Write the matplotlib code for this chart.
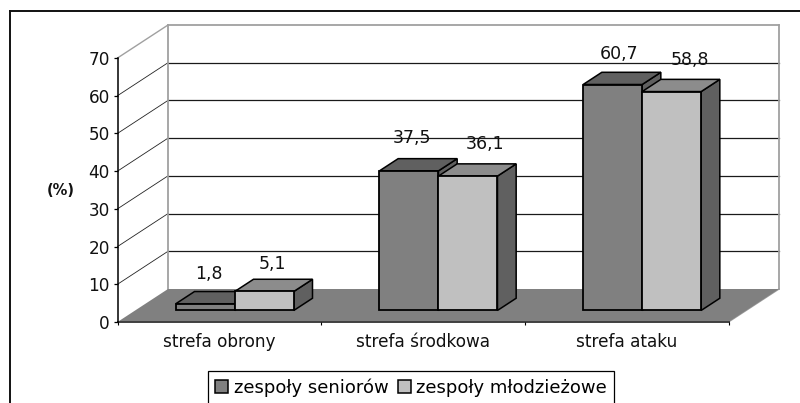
import matplotlib as mpl
mpl.use('Agg')
import matplotlib.pyplot as plt
from matplotlib.patches import Patch, Polygon
from matplotlib.lines import Line2D

categories = ['strefa obrony', 'strefa środkowa', 'strefa ataku']
seniors = [1.8, 37.5, 60.7]
juniors = [5.1, 36.1, 58.8]
seniors_text = ['1,8', '37,5', '60,7']
juniors_text = ['5,1', '36,1', '58,8']
series_names = ['zespoły seniorów', 'zespoły młodzieżowe']
yticks = [0, 10, 20, 30, 40, 50, 60, 70]

W, H = 800, 403
plt.rcParams['font.family'] = ['DejaVu Sans']
fig = plt.figure(figsize=(W / 100, H / 100), dpi=100)
ax = fig.add_axes([117.5 / W, 1 - 322 / H, 611 / W, 264 / H])
ax.set_xlim(0, 3)
ax.set_ylim(0, 70)
ax.patch.set_visible(False)

# oblique depth of the fake 3d box, in data units per unit of depth
depth_x = 50.5 / (611 / 3)
depth_y = 33 / (264 / 70)
bar_w = 59 / (611 / 3)
bar_front = 0.35
bar_back = 0.72
bar_scale = 0.987  # bars sit a bit further back, so they look slightly shorter


def proj(x, y, d):
    return (x + d * depth_x, y + d * depth_y)


def poly(pts, fc, ec='none', lw=0, z=1):
    ax.add_patch(Polygon(pts, closed=True, facecolor=fc, edgecolor=ec, linewidth=lw,
                         joinstyle='miter', zorder=z, clip_on=False))


# floor
poly([proj(0, 0, 0), proj(3, 0, 0), proj(3, 0, 1), proj(0, 0, 1)], '#808080', z=1)

# walls and grid
for v in yticks[1:]:
    x0, y0 = proj(0, v, 1)
    x1, y1 = proj(3, v, 1)
    c = '#909090' if v == 70 else '#1a1a1a'
    ax.plot([x0, x1], [y0, y1], color=c, lw=1.1 if v == 70 else 0.9, zorder=0.5, clip_on=False)
    ax.plot([0, x0], [v, y0], color='#a0a0a0' if v == 70 else '#222222',
            lw=1.0 if v == 70 else 0.6, zorder=0.5, clip_on=False)
x0, y0 = proj(0, 0, 1)
x1, y1 = proj(0, 70, 1)
ax.plot([x0, x1], [y0, y1], color='#a0a0a0', lw=1.3, zorder=0.6, clip_on=False)
x0, y0 = proj(3, 0, 1)
x1, y1 = proj(3, 70, 1)
ax.plot([x0, x1], [y0, y1], color='#a0a0a0', lw=1.3, zorder=0.6, clip_on=False)
ax.plot([3, x0], [0, y0], color='#a0a0a0', lw=1.0, zorder=0.6, clip_on=False)


def bar(x, val, face, top, side, z):
    h = val * bar_scale
    r = x + bar_w
    poly([proj(r, 0, bar_front), proj(r, 0, bar_back), proj(r, h, bar_back), proj(r, h, bar_front)],
         side, 'black', 1.1, z)
    poly([proj(x, h, bar_front), proj(r, h, bar_front), proj(r, h, bar_back), proj(x, h, bar_back)],
         top, 'black', 1.1, z)
    poly([proj(x, 0, bar_front), proj(r, 0, bar_front), proj(r, h, bar_front), proj(x, h, bar_front)],
         face, 'black', 1.3, z + 0.1)


label_dx = [[33, 32, 35.5], [37.5, 47, 47.5]]
label_dy = [30, 33, 30.5], [27, 32, 32]
for i in range(len(categories)):
    left = i + 0.5 - bar_w - 17.7 / (611 / 3) + 15.5 / (611 / 3)
    bar(left, seniors[i], '#808080', '#606060', '#606060', 2 + i)
    bar(left + bar_w, juniors[i], '#c0c0c0', '#8c8c8c', '#606060', 2.5 + i)
    for s, (vals, texts) in enumerate([(seniors, seniors_text), (juniors, juniors_text)]):
        px, py = proj(left + s * bar_w, vals[i] * bar_scale, bar_front)
        ax.annotate(texts[i], (px, py), xycoords='data', annotation_clip=False,
                    xytext=(label_dx[s][i] * 0.72, label_dy[s][i] * 0.72), textcoords='offset points',
                    ha='center', va='center', fontsize=12.5, color='#111111', zorder=9)

# axes
for name in ['top', 'right', 'bottom']:
    ax.spines[name].set_visible(False)
ax.spines['left'].set_linewidth(1.1)
ax.plot([0, 3], [0, 0], color='#404040', lw=1.4, zorder=1.5, clip_on=False)
ax.set_yticks(yticks)
ax.set_xticks([0, 1, 2, 3])
ax.set_xticklabels([])
ax.set_xticks([0.5, 1.5, 2.5], minor=True)
ax.set_xticklabels(categories, minor=True, fontsize=12.2, color='#111111')
ax.tick_params(axis='x', which='major', length=2.5, width=0.8)
ax.tick_params(axis='x', which='minor', length=0, pad=8)
ax.tick_params(axis='y', length=3, width=0.9, pad=2.5, labelsize=12.2, labelcolor='#111111')

fig.text(61 / W, 1 - 191 / H, '(%)', ha='center', va='center', fontsize=10.5, fontweight='bold', color='#111111')

# outer frame, cut by the image on the right and at the bottom
fig.add_artist(Line2D([9.5 / W, 9.5 / W], [0, 1 - 11 / H], color='#111111', lw=1.4))
fig.add_artist(Line2D([9.5 / W, 1], [1 - 11 / H, 1 - 11 / H], color='#111111', lw=1.4))

handles = [Patch(facecolor='#808080', edgecolor='black', linewidth=1.1),
           Patch(facecolor='#c0c0c0', edgecolor='black', linewidth=1.1)]
leg = fig.legend(handles, series_names, loc='center', bbox_to_anchor=(411 / W, 1 - 387.5 / H), ncol=2,
                 fontsize=13, frameon=True, fancybox=False, edgecolor='black', framealpha=1,
                 handlelength=0.72, handleheight=0.72, handletextpad=0.3, columnspacing=0.5,
                 borderpad=0.4, borderaxespad=0)
leg.get_frame().set_linewidth(0.9)

plt.savefig('out.png', dpi=100)
plt.close()
